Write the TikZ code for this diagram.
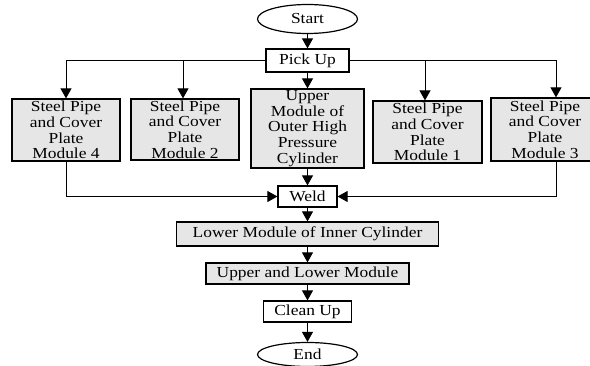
\documentclass[tikz,border=0pt]{standalone}
\usepackage{fontspec}
\setmainfont{Liberation Serif}[FakeStretch=1.14]
\usetikzlibrary{arrows.meta,shapes.geometric}
\definecolor{boxgray}{RGB}{230,230,230}
\tikzset{
  base/.style={draw=black, line width=1.2pt, inner sep=0pt, align=center,
    font=\fontsize{15.3}{15.6}\selectfont},
  plainbox/.style={base, rectangle, fill=white},
  graybox/.style={base, rectangle, fill=boxgray},
  term/.style={base, ellipse, fill=white},
  conn/.style={draw=black, line width=0.9pt, -{Triangle[width=11pt,length=10pt]}}
}
\begin{document}
\begin{tikzpicture}[x=1pt,y=-1pt]
\useasboundingbox (0,0) rectangle (590,366);
\clip (0,0) rectangle (590,366);
\node[term, minimum width=100, minimum height=29] (start) at (307.5,19) {Start};
\node[plainbox, minimum width=83, minimum height=23] (pick) at (307.5,60.5) {Pick Up};
\node[graybox, minimum width=108, minimum height=62] (m4) at (66,130) {Steel Pipe\\and Cover\\Plate\\Module 4};
\node[graybox, minimum width=108, minimum height=61] (m2) at (185,129.5) {Steel Pipe\\and Cover\\Plate\\Module 2};
\node[graybox, minimum width=113, minimum height=79] (up) at (307.5,128.5) {Upper\\Module of\\Outer High\\Pressure\\Cylinder};
\node[graybox, minimum width=109, minimum height=62] (m1) at (427.5,132) {Steel Pipe\\and Cover\\Plate\\Module 1};
\node[graybox, minimum width=108, minimum height=63] (m3) at (545,129.5) {Steel Pipe\\and Cover\\Plate\\Module 3};
\node[plainbox, minimum width=59, minimum height=21] (weld) at (307.5,196.5) {Weld};
\node[graybox, minimum width=262, minimum height=24] (lower) at (307.5,234) {Lower Module of Inner Cylinder};
\node[graybox, minimum width=203, minimum height=21] (ul) at (307.5,273.5) {Upper and Lower Module};
\node[plainbox, minimum width=88, minimum height=21] (clean) at (307.5,311.5) {Clean Up};
\node[term, minimum width=100, minimum height=24] (end) at (307.5,354.5) {End};

\coordinate (m3in) at ([xshift=11]m3.north);
\coordinate (m3out) at ([xshift=11]m3.south);
\coordinate (m2in) at ([xshift=-2]m2.north);
\coordinate (m1in) at ([xshift=-2.5]m1.north);

\draw[conn] (start) -- (pick);
\draw[conn] (pick) -- (up);
\draw[conn] (pick.west) -| (m4.north);
\draw[conn] (pick.west) -| (m2in);
\draw[conn] (pick.east) -| (m1in);
\draw[conn] (pick.east) -| (m3in);
\draw[conn] (up) -- (weld);
\draw[conn] (m4.south) |- (weld.west);
\draw[conn] (m3out) |- (weld.east);
\draw[conn] (weld) -- (lower);
\draw[conn] (lower) -- (ul);
\draw[conn] (ul) -- (clean);
\draw[conn] (clean) -- (end);
\end{tikzpicture}
\end{document}
